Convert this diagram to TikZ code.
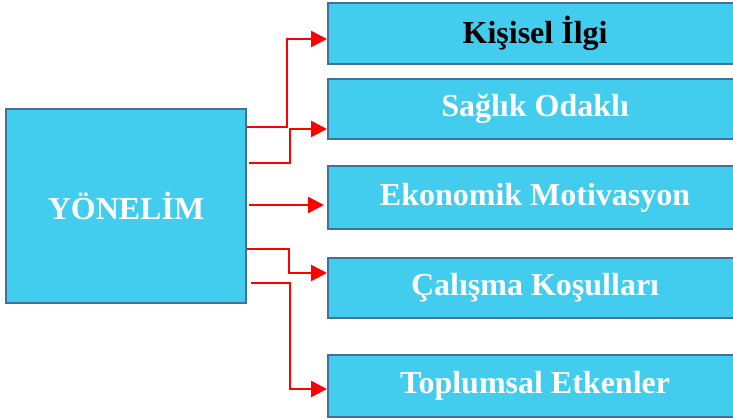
\documentclass[tikz,border=0pt]{standalone}
\usepackage{fontspec}
\setmainfont{Liberation Serif}
\usetikzlibrary{arrows.meta}
\definecolor{boxfill}{HTML}{42CCEE}
\definecolor{boxline}{HTML}{41719C}
\definecolor{linkred}{HTML}{FF0000}
\begin{document}
\begin{tikzpicture}[x=1pt,y=-1pt,
  box/.style={draw=boxline,line width=2.2pt,fill=boxfill,inner sep=0pt,
    font=\fontsize{32}{38}\selectfont\bfseries,text=white},
  item/.style={box,minimum width=414pt,anchor=west},
  arr/.style={draw=linkred,line width=2.4pt,-{Triangle[length=16pt,width=16pt]}}]
\useasboundingbox (0,0) rectangle (733,419);
\clip (0,0) rectangle (733,419);
% source box
\node[box,minimum width=240pt,minimum height=194pt] (L) at (126,206) {YÖNELİM};
% target boxes
\node[item,minimum height=61pt,text=black] (b1) at (327,33.5) {Kişisel İlgi};
\node[item,minimum height=60pt] (b2) at (327,109) {Sağlık Odaklı};
\node[item,minimum height=63pt] (b3) at (327,197.5) {Ekonomik Motivasyon};
\node[item,minimum height=60pt] (b4) at (327,288) {Çalışma Koşulları};
\node[item,minimum height=62pt] (b5) at (327,386) {Toplumsal Etkenler};
% connectors
\draw[arr] ([yshift=79pt]L.east) -- ++(40,0) |- ([yshift=-5.5pt]b1.west);
\draw[arr] ([xshift=2pt,yshift=43pt]L.east) -- ++(41,0) |- ([yshift=-20pt]b2.west);
\draw[arr] ([xshift=2pt,yshift=1pt]L.east) -- ([xshift=-3pt,yshift=-7.5pt]b3.west);
\draw[arr] ([yshift=-43pt]L.east) -- ++(42,0) |- ([yshift=15pt]b4.west);
\draw[arr] ([xshift=4pt,yshift=-77pt]L.east) -- ++(39,0) |- ([yshift=-3pt]b5.west);
\end{tikzpicture}
\end{document}
